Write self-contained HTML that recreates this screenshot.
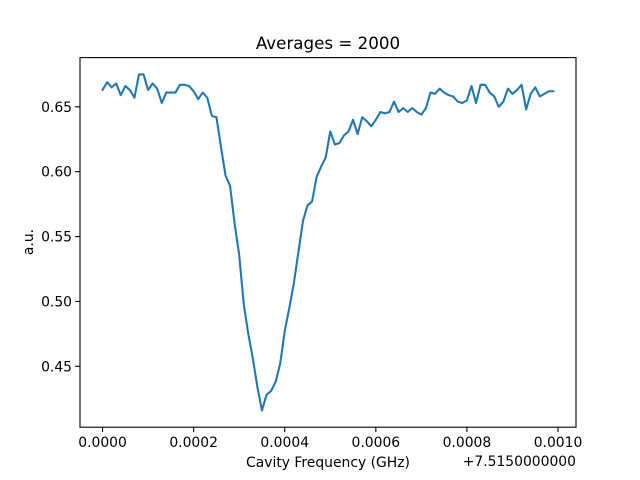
<!DOCTYPE html>
<html><head><meta charset="utf-8"><style>body{margin:0;background:#fff}svg{display:block;font-family:"DejaVu Sans","Liberation Sans",sans-serif}</style></head>
<body>
<svg id="chart" width="640" height="480" xmlns="http://www.w3.org/2000/svg">
<rect width="640" height="480" fill="#fff"/>
<g id="plot"></g>
</svg>
<script>
const values = [0.663,0.669,0.665,0.668,0.659,0.666,0.663,0.657,0.675,0.675,0.663,0.668,0.664,0.653,0.661,0.661,0.661,0.667,0.667,0.666,0.662,0.656,0.661,0.657,0.643,0.642,0.619,0.597,0.589,0.560,0.536,0.498,0.475,0.456,0.434,0.416,0.428,0.431,0.438,0.452,0.477,0.495,0.514,0.538,0.562,0.574,0.577,0.596,0.604,0.611,0.631,0.621,0.622,0.628,0.631,0.640,0.629,0.642,0.639,0.635,0.640,0.646,0.645,0.646,0.654,0.646,0.649,0.646,0.649,0.646,0.644,0.649,0.661,0.660,0.664,0.661,0.659,0.658,0.654,0.653,0.655,0.666,0.653,0.667,0.667,0.661,0.658,0.650,0.654,0.664,0.660,0.663,0.667,0.648,0.660,0.665,0.658,0.660,0.662,0.662];
const xStep = 0.00001;
const xTicks = [0,0.0002,0.0004,0.0006,0.0008,0.0010];
const xTickLabels = ["0.0000","0.0002","0.0004","0.0006","0.0008","0.0010"];
const yTicks = [0.45,0.50,0.55,0.60,0.65];
const yTickLabels = ["0.45","0.50","0.55","0.60","0.65"];

const L=80,R=576,T=57.6,B=427.2;
const xs = values.map((v,i)=>i*xStep);
const xmin=Math.min(...xs), xmax=Math.max(...xs), xm=(xmax-xmin)*0.05;
const ymin=Math.min(...values), ymax=Math.max(...values), ym=(ymax-ymin)*0.05;
const X=v=>L+(v-(xmin-xm))/((xmax+xm)-(xmin-xm))*(R-L);
const Y=v=>B-(v-(ymin-ym))/((ymax+ym)-(ymin-ym))*(B-T);
const g=document.getElementById('plot');
const NS='http://www.w3.org/2000/svg';
function mk(tag,attrs,parent){const e=document.createElementNS(NS,tag);for(const k in attrs)e.setAttribute(k,attrs[k]);(parent||g).appendChild(e);return e;}

const line=mk('polyline',{points:values.map((v,i)=>X(xs[i]).toFixed(2)+','+Y(v).toFixed(2)).join(' '),fill:'none',stroke:'#1f77b4','stroke-width':2.08,'stroke-linejoin':'round','stroke-linecap':'square'});



const frame=mk('rect',{x:L,y:T,width:R-L,height:B-T,fill:'none',stroke:'#000','stroke-width':1.1});



xTicks.forEach((t,i)=>{
  const px=X(t);
  const tk=mk('line',{x1:px,x2:px,y1:B,y2:B+4.9,stroke:'#000','stroke-width':1.1});
  
  
  const tx=mk('text',{x:px,y:B+20,'text-anchor':'middle','font-size':13.9,fill:'#000'});
  tx.textContent=xTickLabels[i];
  
  
});
yTicks.forEach((t,i)=>{
  const py=Y(t);
  const tk=mk('line',{x1:L-4.9,x2:L,y1:py,y2:py,stroke:'#000','stroke-width':1.1});
  
  
  const tx=mk('text',{x:L-8,y:py+5,'text-anchor':'end','font-size':13.9,fill:'#000'});
  tx.textContent=yTickLabels[i];
  
  
});
</script>
<svg style="position:absolute;left:0;top:0" width="640" height="480" xmlns="http://www.w3.org/2000/svg">
<text x="328" y="49" text-anchor="middle" font-size="16.7" font-family="DejaVu Sans, Liberation Sans, sans-serif">Averages = 2000</text>
<text x="328" y="467" text-anchor="middle" font-size="13.9" font-family="DejaVu Sans, Liberation Sans, sans-serif">Cavity Frequency (GHz)</text>
<text x="576" y="466" text-anchor="end" font-size="13.9" font-family="DejaVu Sans, Liberation Sans, sans-serif">+7.5150000000</text>
<text x="0" y="0" transform="translate(33,242) rotate(-90)" text-anchor="middle" font-size="13.9" font-family="DejaVu Sans, Liberation Sans, sans-serif">a.u.</text>
</svg>
</body></html>
